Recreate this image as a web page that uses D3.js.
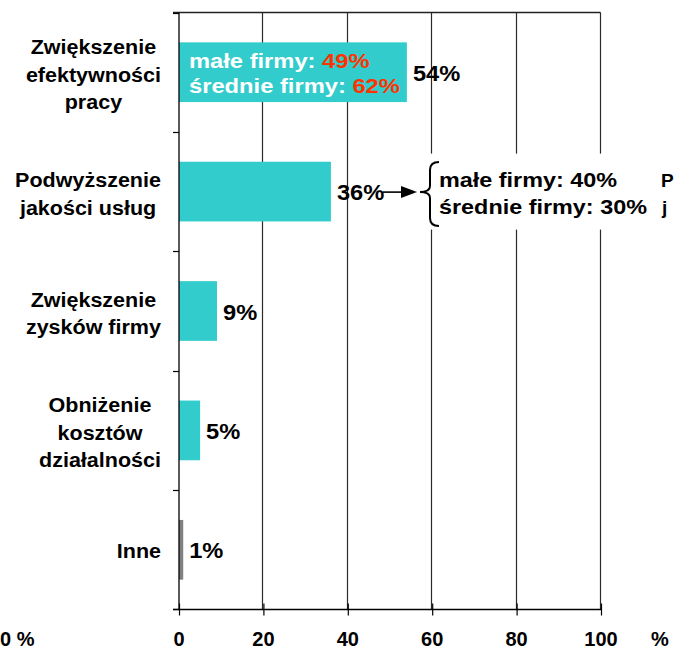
<!DOCTYPE html>
<html>
<head>
<meta charset="utf-8">
<script src="https://cdn.jsdelivr.net/npm/d3@7"></script>
<style>
  html, body { margin: 0; padding: 0; background: #fff; }
  svg { display: block; }
  text { font-family: "Liberation Sans", Arial, sans-serif; font-weight: bold; }
</style>
</head>
<body>
<svg id="chart" width="674" height="650"></svg>
<script>
// ---- data ----
const categories = [
  "Zwiększenie\nefektywności\npracy",
  "Podwyższenie\njakości usług",
  "Zwiększenie\nzysków firmy",
  "Obniżenie\nkosztów\ndziałalności",
  "Inne"
];
const values = [54, 36, 9, 5, 1];
const xTicks = [0, 20, 40, 60, 80, 100];
const smallFirmLabel = "małe firmy: ";
const mediumFirmLabel = "średnie firmy: ";
const smallFirms = [49, 40];     // for the first two categories
const mediumFirms = [62, 30];
const otherCategory = "Inne";

// ---- setup ----
const svg = d3.select("#chart");
const W = 674, H = 650;
const x = d3.scaleLinear().domain([0, 100]).range([179, 601]);
const y = d3.scaleBand().domain(categories).range([12.5, 609.5])
  .paddingInner(0.5).paddingOuter(0.25);
const color = d3.scaleOrdinal().domain([otherCategory]).range(["#808080"]).unknown("#33CCCC");
const step = y.step();
const cy = c => y(c) + y.bandwidth() / 2;
const crisp = v => Math.round(v) + 0.5;

// gridlines
svg.append("g").selectAll("line").data(xTicks.slice(1)).join("line")
  .attr("x1", d => crisp(x(d)) - 1).attr("x2", d => crisp(x(d)) - 1)
  .attr("y1", 12.5).attr("y2", 609.5)
  .attr("stroke", "#2a2a2a").attr("stroke-width", 1.2);

// top frame line
svg.append("line").attr("x1", 173).attr("x2", crisp(x(100)) - 1)
  .attr("y1", 12.5).attr("y2", 12.5).attr("stroke", "#222").attr("stroke-width", 1.3);

// white box behind annotation (covers gridlines)
const c2 = categories[1];
svg.append("rect").attr("x", 418).attr("y", cy(c2) - 38).attr("width", W - 418).attr("height", 76)
  .attr("fill", "#fff");

// bars
svg.append("g").selectAll("rect").data(categories).join("rect")
  .attr("x", x(0)).attr("y", d => y(d))
  .attr("width", (d, i) => x(values[i]) - x(0))
  .attr("height", y.bandwidth())
  .attr("fill", d => color(d));

// left axis
svg.append("line").attr("x1", 179).attr("x2", 179).attr("y1", 12.5).attr("y2", 609.5)
  .attr("stroke", "#000").attr("stroke-width", 1.3);
svg.append("g").selectAll("line").data(d3.range(categories.length + 1)).join("line")
  .attr("x1", 173).attr("x2", 179)
  .attr("y1", i => Math.round(12.5 + i * step) + 0.5 - (i === categories.length ? 1 : 0))
  .attr("y2", i => Math.round(12.5 + i * step) + 0.5 - (i === categories.length ? 1 : 0))
  .attr("stroke", "#000").attr("stroke-width", 1.2);

// bottom axis
const xAxis = d3.axisBottom(x).tickValues(xTicks).tickSize(6).tickFormat("");
const gx = svg.append("g").attr("transform", "translate(0,609.5)").call(xAxis);
gx.select(".domain").remove();
gx.selectAll(".tick line").attr("stroke", "#000").attr("stroke-width", 1.2).attr("y1", -6).attr("y2", 6);
svg.append("line").attr("x1", 173).attr("x2", 601).attr("y1", 609.5).attr("y2", 609.5)
  .attr("stroke", "#000").attr("stroke-width", 1.3);

// x tick labels
svg.append("g").selectAll("text").data(xTicks).join("text")
  .attr("x", d => x(d)).attr("y", 645.5)
  .attr("text-anchor", "middle").attr("font-size", 20).attr("fill", "#000")
  .text(d => d);
svg.append("text").attr("x", 651).attr("y", 645.5).attr("font-size", 20).text("%");
svg.append("text").attr("x", 0).attr("y", 645.5).attr("font-size", 20).text("0 %");

// category labels: lines centred on each other, block right-aligned
const catG = svg.append("g");
categories.forEach(c => {
  const lines = c.split("\n");
  const n = lines.length;
  const off = n === 1 ? 7.8 : 9.5;
  const texts = lines.map((l, i) => catG.append("text")
    .attr("font-size", 20.5).attr("fill", "#000")
    .attr("text-anchor", "middle")
    .attr("y", cy(c) + off + (i - (n - 1) / 2) * 27.5)
    .text(l));
  const sx = 1.05;
  const wMax = d3.max(texts, t => t.node().getComputedTextLength()) * sx;
  const center = 161 - wMax / 2;
  texts.forEach(t => t.attr("transform", `translate(${center},0) scale(${sx},1)`).attr("x", 0));
});

// value labels
svg.append("g").selectAll("text").data(categories).join("text")
  .attr("transform", (d, i) => `translate(${x(values[i]) + 6},${cy(d) + 8.5}) scale(1.1,1)`)
  .attr("font-size", 21.5).attr("fill", "#000")
  .text((d, i) => values[i] + "%");

// inner text in first bar
const c1 = categories[0];
const inner = svg.append("g");
[[smallFirmLabel, smallFirms[0], -4], [mediumFirmLabel, mediumFirms[0], 21]].forEach(([lab, v, dy]) => {
  const t = inner.append("text").attr("font-size", 21)
    .attr("transform", `translate(189,${cy(c1) + dy}) scale(1.13,1)`);
  t.append("tspan").attr("fill", "#fff").text(lab);
  t.append("tspan").attr("fill", "#ff3300").text(v + "%");
});

// arrow + brace + annotation for second category
const ay = cy(c2) + 0.5;
const ax0 = x(values[1]) + 52;
svg.append("line").attr("x1", ax0).attr("x2", 402).attr("y1", ay).attr("y2", ay)
  .attr("stroke", "#000").attr("stroke-width", 1.6);
svg.append("path")
  .attr("d", `M401,${ay - 6} L417,${ay} L401,${ay + 6} Z`).attr("fill", "#000");
const bt = ay - 30, bb = ay + 34;
svg.append("path")
  .attr("d", `M439,${bt} Q430,${bt} 430,${bt + 8} L430,${ay - 6} Q430,${ay} 420,${ay} Q430,${ay} 430,${ay + 6} L430,${bb - 8} Q430,${bb} 439,${bb}`)
  .attr("fill", "none").attr("stroke", "#000").attr("stroke-width", 2);
[[smallFirmLabel + smallFirms[1] + "%", -4.5], [mediumFirmLabel + mediumFirms[1] + "%", 22.5]].forEach(([s, dy]) => {
  svg.append("text").attr("font-size", 20)
    .attr("transform", `translate(439,${cy(c2) + dy}) scale(1.17,1)`)
    .attr("fill", "#000").text(s);
});
svg.append("text").attr("x", 661).attr("y", cy(c2) - 4.5).attr("font-size", 19).text("P");
svg.append("text").attr("x", 662).attr("y", cy(c2) + 22.5).attr("font-size", 19).text("j");
</script>
</body>
</html>
